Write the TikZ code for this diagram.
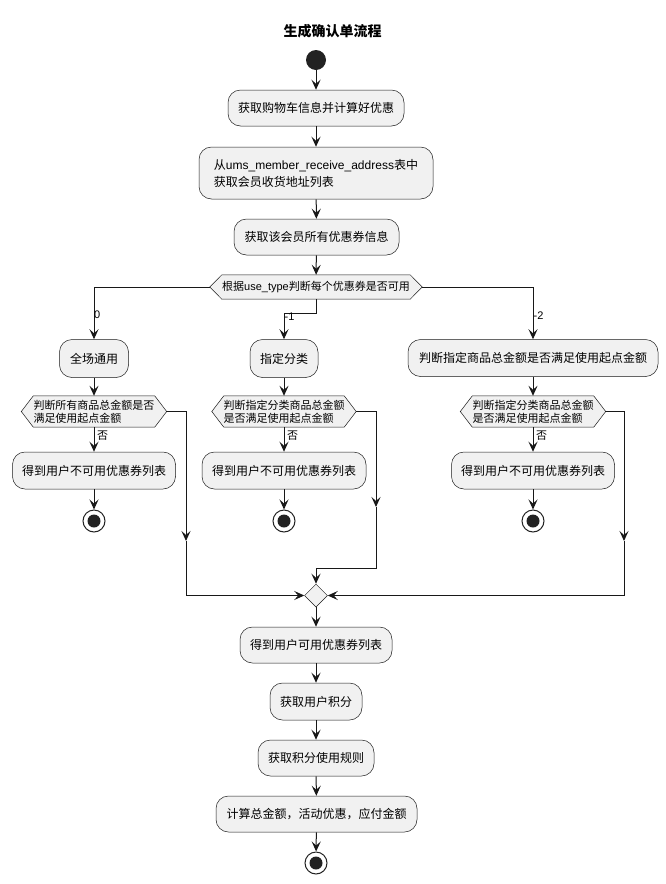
\documentclass[tikz,border=0pt]{standalone}
\usepackage{fontspec}
\setmainfont{Liberation Sans}
\newfontfamily\cjk{Noto Sans CJK SC}
\usetikzlibrary{arrows.meta,shapes.geometric,backgrounds}
\newcommand{\lat}[1]{{\rmfamily#1}}
\definecolor{boxfill}{HTML}{F1F1F1}
\definecolor{ink}{HTML}{181818}
\definecolor{dark}{HTML}{222222}
\tikzset{
  act/.style={rectangle, rounded corners=12.5pt, draw=ink, line width=0.5pt, fill=boxfill,
    inner sep=0pt, minimum height=37pt, align=center, text=black,
    font=\cjk\fontsize{12}{17}\selectfont},
  hexnode/.style={rectangle, inner sep=0pt, align=left, text=black,
    font=\cjk\fontsize{11}{13}\selectfont},
  hexline/.style={draw=ink, line width=0.5pt, fill=boxfill},
  ln/.style={draw=ink, line width=1pt},
  arr/.style={draw=ink, line width=1pt, -{Stealth[length=10pt,width=9pt,inset=4pt]}},
  lbl/.style={inner sep=0pt, anchor=west, text=black, font=\fontsize{11}{13}\selectfont},
  startc/.style={circle, fill=dark, minimum size=20pt, inner sep=0pt},
  endc/.style={circle, draw=dark, line width=1pt, fill=white, minimum size=22pt, inner sep=0pt,
    path picture={\fill[dark] (path picture bounding box.center) circle (6.5pt);}},
  merge/.style={diamond, draw=ink, line width=0.5pt, fill=boxfill, minimum width=23pt,
    minimum height=23pt, inner sep=0pt, aspect=1}
}
\begin{document}
\begin{tikzpicture}[x=1pt,y=-1pt]
\useasboundingbox (0,0) rectangle (666,884);
\node[font=\cjk\bfseries\fontsize{14}{16}\selectfont] (title) at (332.5,31) {生成确认单流程};
\node[startc] (start) at (316,60) {};
\node[act, minimum width=176pt, minimum height=36pt] (b1) at (316,108) {获取购物车信息并计算好优惠};
\node[act, minimum width=234pt, minimum height=52pt, align=left] (b2) at (316,173)
  {从\lat{ums\_member\_receive\_address}表中\\获取会员收货地址列表};
\node[act, minimum width=165pt, minimum height=36pt] (b3) at (316.5,237) {获取该会员所有优惠券信息};
\node[hexnode, minimum width=212pt, minimum height=24pt, align=center] (d0) at (316,287)
  {根据\lat{use\_type}判断每个优惠券是否可用};

\node[act, minimum width=69pt, minimum height=38pt] (bA) at (94,358.5) {全场通用};
\node[act, minimum width=68pt, minimum height=38pt] (bB) at (284,358.5) {指定分类};
\node[act, minimum width=250pt, minimum height=37pt] (bC) at (533,358) {判断指定商品总金额是否满足使用起点金额};

\node[hexnode, minimum width=145pt, minimum height=31pt] (hA) at (94,411.5)
  {判断所有商品总金额是否\\满足使用起点金额};
\node[hexnode, minimum width=144pt, minimum height=31pt] (hB) at (284,411.5)
  {判断指定分类商品总金额\\是否满足使用起点金额};
\node[hexnode, minimum width=145pt, minimum height=31pt] (hC) at (533,411.5)
  {判断指定分类商品总金额\\是否满足使用起点金额};

\node[act, minimum width=163pt, minimum height=37pt] (nA) at (94,470.5) {得到用户不可用优惠券列表};
\node[act, minimum width=164pt, minimum height=37pt] (nB) at (284,470.5) {得到用户不可用优惠券列表};
\node[act, minimum width=163pt, minimum height=37pt] (nC) at (533,470.5) {得到用户不可用优惠券列表};

\node[endc] (eA) at (94,521) {};
\node[endc] (eB) at (284,521) {};
\node[endc] (eC) at (533,521) {};

\node[merge] (m) at (316,595.5) {};
\node[act, minimum width=152pt, minimum height=36pt] (c1) at (316,645) {得到用户可用优惠券列表};
\node[act, minimum width=92pt, minimum height=37pt] (c2) at (316,701.5) {获取用户积分};
\node[act, minimum width=116pt, minimum height=36pt] (c3) at (316,758) {获取积分使用规则};
\node[act, minimum width=201pt, minimum height=36pt] (c4) at (316.5,814) {计算总金额，活动优惠，应付金额};
\node[endc] (fin) at (316,863) {};

\begin{scope}[on background layer]
\foreach \h in {d0,hA,hB,hC}
  \path[hexline] (\h.west) -- ([xshift=12pt]\h.north west) -- ([xshift=-12pt]\h.north east)
    -- (\h.east) -- ([xshift=-12pt]\h.south east) -- ([xshift=12pt]\h.south west) -- cycle;
\end{scope}

% coordinates for bends
\coordinate (kB0) at (316,313);
\coordinate (jA) at (186,541);
\coordinate (jB) at (376,507);
\coordinate (kB) at (376,568);
\coordinate (jC) at (624,541);

\draw[arr] (start) -- (b1);
\draw[arr] (b1) -- (b2);
\draw[arr] (b2) -- (b3);
\draw[arr] (b3) -- (d0);
\draw[arr] (d0.west) -| (bA.north);
\draw[arr] (d0.south) -- (kB0) -| (bB.north);
\draw[arr] (d0.east) -| (bC.north);

\draw[arr] (bA) -- (hA);
\draw[arr] (bB) -- (hB);
\draw[arr] (bC) -- (hC);
\draw[arr] (hA.south) -- (nA.north);
\draw[arr] (hB.south) -- (nB.north);
\draw[arr] (hC.south) -- (nC.north);
\draw[arr] (nA) -- (eA);
\draw[arr] (nB) -- (eB);
\draw[arr] (nC) -- (eC);

\draw[arr] (hA.east) -| (jA);
\draw[arr] (jA) |- (m.west);
\draw[arr] (hB.east) -| (jB);
\draw[arr] (jB) -- (kB) -| (m.north);
\draw[arr] (hC.east) -| (jC);
\draw[arr] (jC) |- (m.east);

\draw[arr] (m) -- (c1);
\draw[arr] (c1) -- (c2);
\draw[arr] (c2) -- (c3);
\draw[arr] (c3) -- (c4);
\draw[arr] (c4) -- (fin);

\node[lbl] (l0) at (94,315) {0};
\node[lbl] (l1) at (284.5,317) {-1};
\node[lbl] (l2) at (533.5,316) {-2};
\node[lbl, font=\cjk\fontsize{11}{13}\selectfont] (nA0) at (97,436) {否};
\node[lbl, font=\cjk\fontsize{11}{13}\selectfont] (nB0) at (287,436) {否};
\node[lbl, font=\cjk\fontsize{11}{13}\selectfont] (nC0) at (536,436) {否};
\end{tikzpicture}
\end{document}
